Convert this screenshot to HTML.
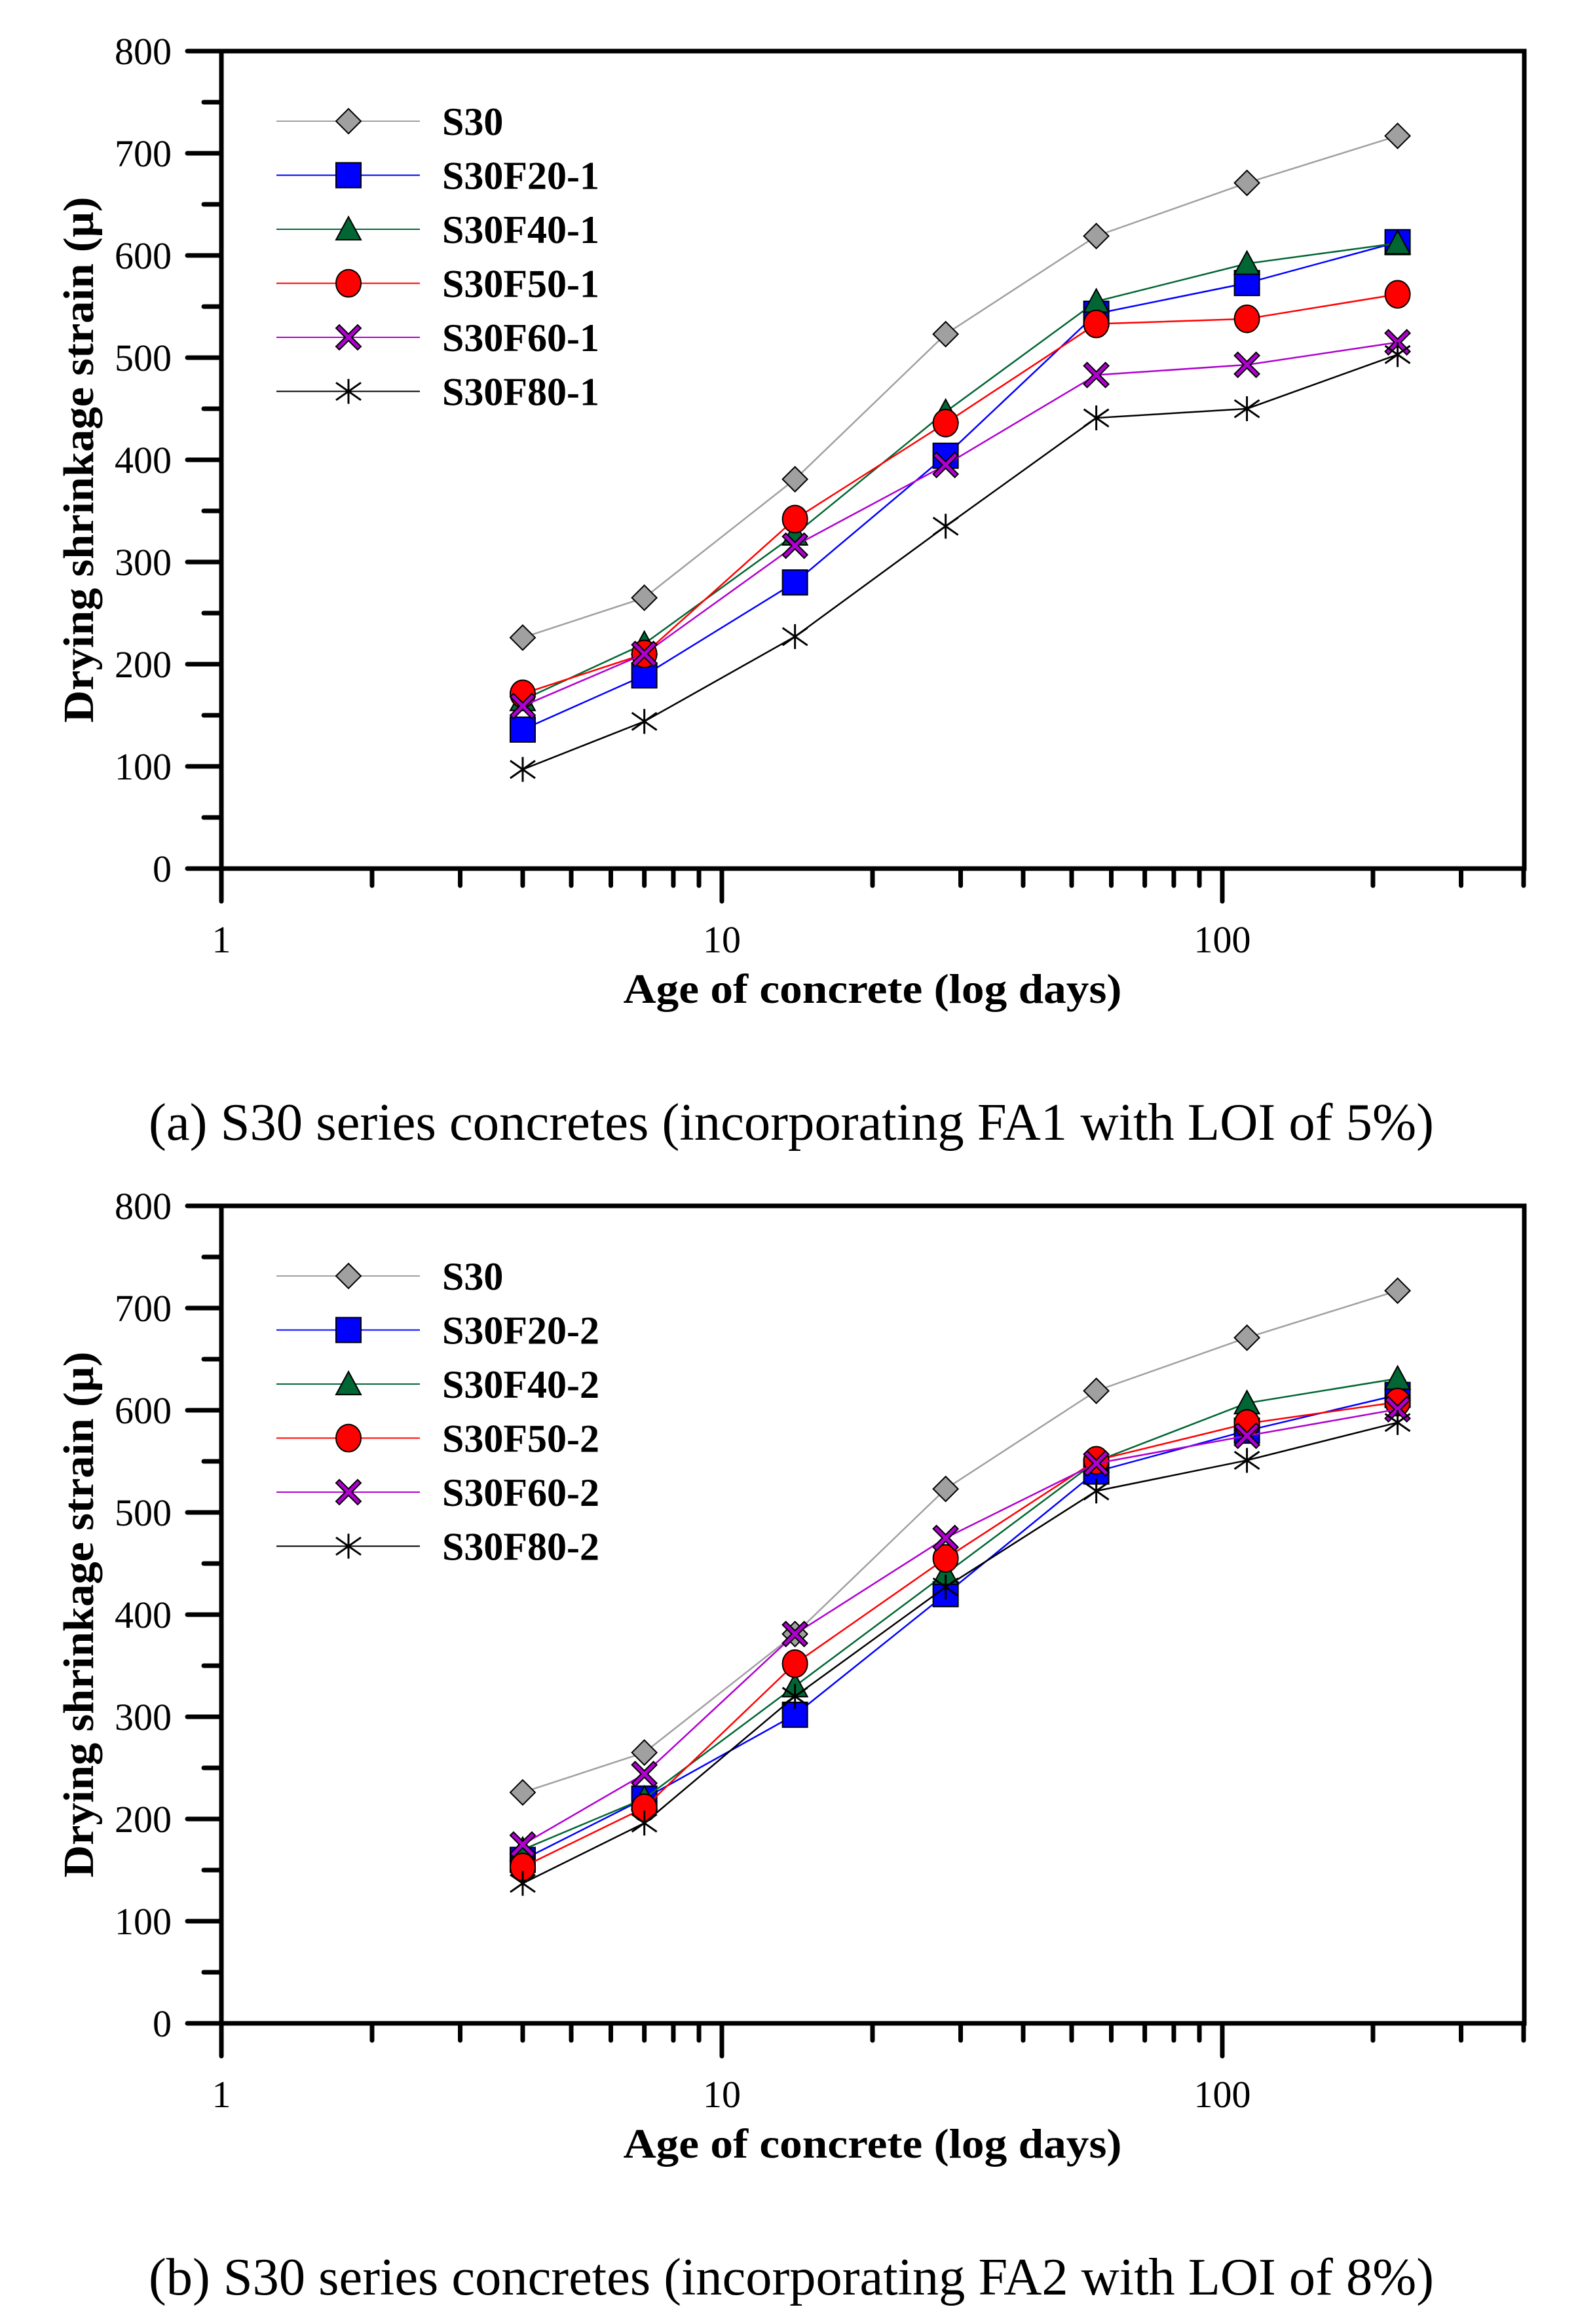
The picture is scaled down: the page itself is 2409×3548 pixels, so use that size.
<!DOCTYPE html>
<html><head><meta charset="utf-8"><style>
html,body{margin:0;padding:0;background:#fff;}
svg{display:block;}
text{font-family:"Liberation Serif",serif;}
</style></head><body>
<svg id="fig" width="2409" height="3548" viewBox="0 0 2409 3548" xmlns="http://www.w3.org/2000/svg"></svg>
<script>
const days = [4, 7, 14, 28, 56, 112, 224];
const yTicks = [0, 100, 200, 300, 400, 500, 600, 700, 800];
const xTickLabels = ["1", "10", "100"];
const namesA = ["S30", "S30F20-1", "S30F40-1", "S30F50-1", "S30F60-1", "S30F80-1"];
const namesB = ["S30", "S30F20-2", "S30F40-2", "S30F50-2", "S30F60-2", "S30F80-2"];
const a_S30 = [226, 265, 381, 523, 619, 671, 717];
const a_F20 = [136, 189, 280, 404, 543, 573, 613];
const a_F40 = [165, 220, 327, 447, 555, 592, 612];
const a_F50 = [171, 210, 342, 436, 533, 538, 562];
const a_F60 = [159, 210, 316, 395, 483, 493, 515];
const a_F80 = [97, 144, 227, 335, 441, 450, 503];
const b_S30 = [226, 265, 381, 523, 619, 671, 717];
const b_F20 = [160, 220, 302, 420, 540, 580, 615];
const b_F40 = [170, 220, 330, 440, 550, 607, 631];
const b_F50 = [153, 211, 352, 455, 551, 587, 608];
const b_F60 = [175, 244, 381, 475, 548, 575, 601];
const b_F80 = [137, 196, 320, 427, 521, 551, 588];

const NS = "http://www.w3.org/2000/svg";
const svg = document.getElementById('fig');
function el(tag, attrs, parent) {
  const e = document.createElementNS(NS, tag);
  for (const k in attrs) e.setAttribute(k, attrs[k]);
  (parent || svg).appendChild(e);
  return e;
}
const styles = [
  {line: "#a0a0a0", fill: "#a0a0a0", m: "diamond"},
  {line: "#0000ff", fill: "#0000ff", m: "square"},
  {line: "#006633", fill: "#006633", m: "triangle"},
  {line: "#ff0000", fill: "#ff0000", m: "circle"},
  {line: "#b000d0", fill: "#b000d0", m: "cross"},
  {line: "#000000", fill: "none", m: "star"}
];
function marker(g, type, cx, cy, fill) {
  const r = 19;
  let e;
  if (type === "diamond") e = el('polygon', {points: `${cx},${cy-r} ${cx+r},${cy} ${cx},${cy+r} ${cx-r},${cy}`, fill, stroke: "#000", "stroke-width": 2}, g);
  else if (type === "square") e = el('rect', {x: cx-r, y: cy-r, width: 2*r, height: 2*r, fill, stroke: "#000", "stroke-width": 2}, g);
  else if (type === "triangle") e = el('polygon', {points: `${cx},${cy-r} ${cx+r},${cy+r*0.85} ${cx-r},${cy+r*0.85}`, fill, stroke: "#000", "stroke-width": 2}, g);
  else if (type === "circle") e = el('ellipse', {cx, cy, rx: r, ry: r*1.1, fill, stroke: "#000", "stroke-width": 2}, g);
  else if (type === "cross") {
    const w = 5, s = r;
    e = el('polygon', {points: `${cx-s},${cy-s+w} ${cx-s+w},${cy-s} ${cx},${cy-w} ${cx+s-w},${cy-s} ${cx+s},${cy-s+w} ${cx+w},${cy} ${cx+s},${cy+s-w} ${cx+s-w},${cy+s} ${cx},${cy+w} ${cx-s+w},${cy+s} ${cx-s},${cy+s-w} ${cx-w},${cy}`, fill, stroke: "#000", "stroke-width": 2}, g);
  } else {
    e = el('path', {d: `M${cx},${cy-r}V${cy+r}M${cx-r},${cy-r*0.7}L${cx+r},${cy+r*0.7}M${cx-r},${cy+r*0.7}L${cx+r},${cy-r*0.7}`, stroke: "#000", "stroke-width": 3, fill: "none"}, g);
  }
  
  
}

function drawChart(oy, names, series, caption, id) {
  const L = 338, R = 2327, T = oy, B = oy + 1248;
  const dec = 764;
  const xs = d => L + Math.log10(d) * dec;
  const ys = v => B - v / 800 * (B - T);
  const g = el('g', {});
  
  
  const tg = el('g', {stroke: "#000", "stroke-width": 7, "stroke-linecap": "round"}, g);
  
  
  for (let v = 0; v <= 800; v += 50) {
    const major = v % 100 === 0;
    el('line', {x1: L - (major ? 52 : 27), x2: L, y1: ys(v), y2: ys(v)}, tg);
  }
  yTicks.forEach(v => {
    const t = el('text', {x: 262, y: ys(v) + 20, "text-anchor": "end", "font-size": 58}, g);
    
    
    t.textContent = String(v);
  });
  for (let p = 0; p < 3; p++) {
    for (let m = 1; m <= 9; m++) {
      const d = m * Math.pow(10, p);
      if (d > 400) break;
      const major = m === 1;
      el('line', {x1: xs(d), x2: xs(d), y1: B, y2: B + (major ? 50 : 26)}, tg);
    }
  }
  xTickLabels.forEach((lab, i) => {
    const t = el('text', {x: xs(Math.pow(10, i)), y: B + 128, "text-anchor": "middle", "font-size": 58}, g);
    
    
    t.textContent = lab;
  });
  const frame = el('rect', {x: L, y: T, width: R - L, height: B - T, fill: "none", stroke: "#000", "stroke-width": 7}, g);
  
  
  series.forEach((vals, si) => {
    const st = styles[si];
    const sg = el('g', {}, g);
    
    
    const pts = vals.map((v, i) => `${xs(days[i])},${ys(v)}`).join(' ');
    el('polyline', {points: pts, fill: "none", stroke: st.line, "stroke-width": 2.5}, sg);
    vals.forEach((v, i) => marker(sg, st.m, xs(days[i]), ys(v), st.fill));
  });
  const lg = el('g', {}, g);
  
  
  names.forEach((n, i) => {
    const st = styles[i];
    const y = T + 107 + i * 82.5;
    const eg = el('g', {}, lg);
    
    
    el('line', {x1: 422, x2: 641, y1: y, y2: y, stroke: st.line, "stroke-width": 2}, eg);
    marker(eg, st.m, 532, y, st.fill);
    const t = el('text', {x: 675, y: y + 21, "font-size": 60, "font-weight": "bold"}, eg);
    t.textContent = n;
  });
  const xl = el('text', {x: 1332, y: B + 205, "text-anchor": "middle", "font-size": 64, "font-weight": "bold", textLength: 761, lengthAdjust: "spacingAndGlyphs"}, g);
  
  
  xl.textContent = "Age of concrete (log days)";
  const yc = (T + B) / 2;
  const yl = el('text', {x: 0, y: 0, transform: `translate(142,${yc}) rotate(-90)`, "text-anchor": "middle", "font-size": 66, "font-weight": "bold", textLength: 803, lengthAdjust: "spacingAndGlyphs"}, g);
  
  
  yl.textContent = "Drying shrinkage strain (\u03bc)";
  const cp = el('text', {x: 1208, y: B + 414, "text-anchor": "middle", "font-size": 80, textLength: 1962, lengthAdjust: "spacingAndGlyphs"}, g);
  
  
  cp.textContent = caption;
}
drawChart(78, namesA, [a_S30, a_F20, a_F40, a_F50, a_F60, a_F80], "(a) S30 series concretes (incorporating FA1 with LOI of 5%)", "a");
drawChart(1841, namesB, [b_S30, b_F20, b_F40, b_F50, b_F60, b_F80], "(b) S30 series concretes (incorporating FA2 with LOI of 8%)", "b");
</script>
</body></html>
